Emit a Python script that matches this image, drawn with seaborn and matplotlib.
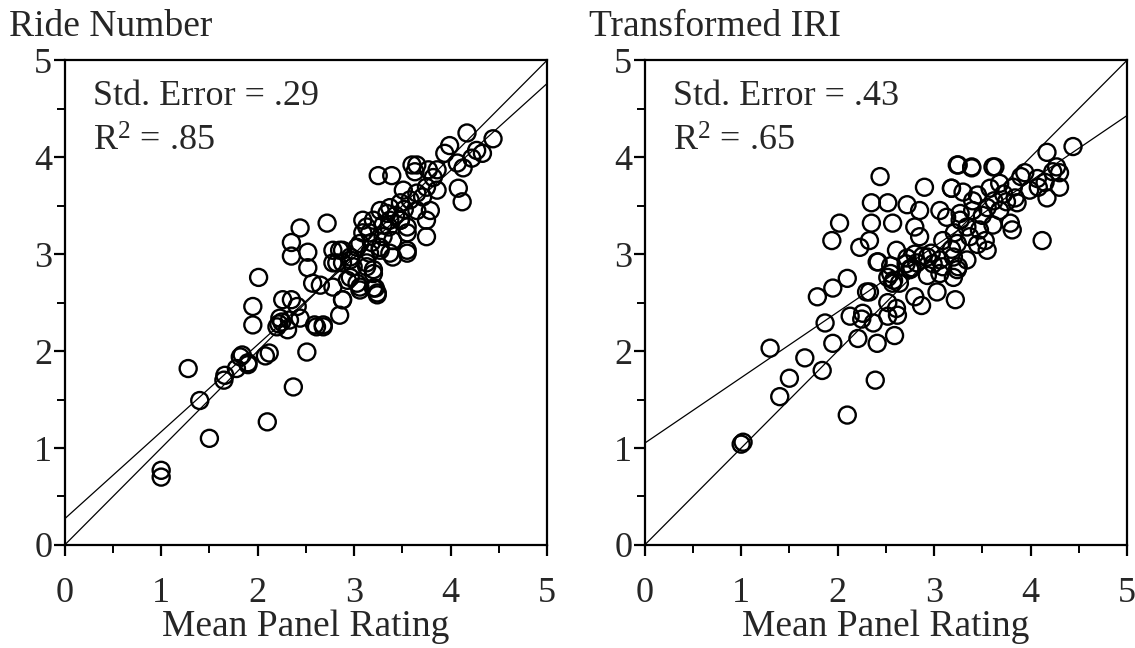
import numpy as np
import pandas as pd
import matplotlib
matplotlib.use("Agg")
import matplotlib.pyplot as plt
from matplotlib.ticker import MultipleLocator
import seaborn as sns

# Ride Number panel: mean panel rating vs predicted
ride_x = [1.00, 1.00, 1.28, 1.40, 1.50, 1.65, 1.78, 1.84, 1.90, 2.10, 2.08, 2.12, 2.22, 2.25, 2.37, 2.51,
          1.66, 1.82, 1.90, 1.95, 1.95, 2.01, 2.26, 2.35, 2.41, 2.23, 2.33, 2.44, 2.20, 2.31, 2.59, 2.68,
          2.44, 2.72, 2.35, 2.35, 2.52, 2.52, 2.57, 2.65, 2.78, 2.88, 2.85, 2.61, 2.68,
          2.93, 3.03, 3.06, 3.20, 3.24, 2.78, 2.88, 2.96, 2.82, 2.99, 3.13, 3.20, 3.06, 3.16, 3.27,
          3.09, 3.34, 3.48, 3.55, 3.40, 3.30, 3.55, 3.40,
          4.17, 4.44, 3.99, 3.94, 4.27, 4.33, 4.22, 4.13, 4.07, 3.86, 3.77, 3.65, 3.63, 3.82, 3.75,
          3.86, 3.71, 3.65, 3.58, 3.51, 3.79, 3.65, 3.48, 3.37, 3.27, 3.20, 3.13, 3.09, 3.37, 3.48,
          3.55, 3.75, 3.75, 3.55, 3.37, 3.27, 3.16, 3.03, 2.96, 2.85, 2.88, 2.78, 3.13, 3.20, 3.06,
          3.22, 3.24, 2.96, 2.88, 4.08, 4.12, 3.25, 3.39, 3.60, 3.30, 3.43, 3.52, 3.18, 3.36]
ride_y = [0.77, 0.70, 1.82, 1.49, 1.10, 1.70, 1.82, 1.96, 1.86, 1.27, 1.95, 1.98, 2.28, 2.30, 1.63, 1.99,
          1.75, 1.94, 1.88, 2.46, 2.27, 2.76, 2.53, 2.53, 2.46, 2.34, 2.32, 2.34, 2.25, 2.22, 2.27, 2.27,
          3.27, 3.32, 3.12, 2.98, 3.02, 2.86, 2.70, 2.68, 2.66, 2.53, 2.37, 2.25, 2.25,
          2.73, 2.70, 2.63, 2.65, 2.58, 3.04, 3.04, 2.94, 2.91, 2.87, 2.91, 2.84, 3.11, 3.22, 3.04,
          3.35, 3.42, 3.35, 3.22, 3.14, 3.18, 3.04, 2.97,
          4.25, 4.19, 4.12, 4.04, 4.07, 4.04, 3.99, 3.89, 3.94, 3.87, 3.87, 3.92, 3.85, 3.79, 3.69,
          3.66, 3.59, 3.63, 3.56, 3.66, 3.45, 3.45, 3.53, 3.48, 3.45, 3.35, 3.28, 3.22, 3.35, 3.35,
          3.28, 3.35, 3.18, 3.01, 3.01, 3.07, 3.01, 3.07, 2.97, 3.04, 2.91, 2.91, 2.87, 2.80, 2.66,
          2.65, 2.60, 2.76, 2.53, 3.68, 3.54, 3.81, 3.81, 3.92, 3.30, 3.40, 3.46, 3.12, 3.28]

# Transformed IRI panel
iri_x = [1.02, 1.00, 1.30, 1.40, 1.50, 1.66, 1.84, 1.87, 2.10, 2.39, 1.95, 2.21, 2.41, 2.59,
         2.44, 2.35, 2.52, 2.02, 2.35, 2.57, 1.94, 2.23, 2.33, 2.61, 2.42, 2.55, 2.58, 2.10, 1.95,
         1.79, 2.33, 2.13, 2.26, 2.25, 2.37, 2.52, 2.62, 3.24, 3.39, 3.61, 2.90, 3.18, 2.72, 2.85,
         3.06, 3.27, 2.80, 2.85, 2.72, 2.82, 2.97, 3.06, 2.41, 2.52, 2.57, 2.77, 2.93, 3.06, 3.20,
         3.25, 2.30, 3.03, 3.22, 2.80, 2.87, 2.52, 2.61, 2.71, 2.75,
         4.17, 4.44, 3.25, 3.39, 3.63, 3.94, 4.07, 4.27, 4.23, 4.30, 3.18, 3.30, 3.45, 3.58, 3.68,
         3.82, 3.84, 3.99, 4.08, 4.15, 4.30, 4.17, 4.12, 3.13, 3.27, 3.40, 3.55, 3.68, 3.75, 3.86,
         3.34, 3.47, 3.61, 3.79, 3.81, 3.09, 3.24, 3.37, 3.53, 3.55, 3.20, 3.34, 3.09, 3.24, 2.99,
         2.75, 2.64, 2.93, 3.18, 3.21, 2.80, 2.88, 2.55, 3.45, 3.50, 3.62, 3.40, 3.72, 3.90]
iri_y = [1.06, 1.04, 2.03, 1.53, 1.72, 1.93, 1.80, 2.29, 1.34, 1.70, 2.08, 2.13, 2.08, 2.16,
         3.80, 3.53, 3.53, 3.32, 3.32, 3.32, 3.14, 3.07, 3.14, 3.04, 2.92, 2.80, 2.73, 2.75, 2.65,
         2.56, 2.61, 2.36, 2.39, 2.33, 2.29, 2.36, 2.37, 3.92, 3.90, 3.90, 3.69, 3.68, 3.51, 3.45,
         3.45, 3.42, 3.28, 3.18, 2.96, 2.91, 3.01, 2.94, 2.92, 2.76, 2.70, 2.86, 2.78, 2.80, 2.76,
         2.87, 2.61, 2.61, 2.53, 2.56, 2.47, 2.50, 2.44, 2.90, 2.84,
         4.05, 4.11, 3.92, 3.89, 3.90, 3.84, 3.78, 3.90, 3.85, 3.84, 3.68, 3.64, 3.61, 3.68, 3.73,
         3.69, 3.58, 3.66, 3.69, 3.74, 3.69, 3.58, 3.14, 3.38, 3.35, 3.45, 3.48, 3.45, 3.54, 3.53,
         3.28, 3.25, 3.30, 3.32, 3.25, 3.14, 3.11, 3.18, 3.14, 3.04, 2.97, 2.94, 2.87, 2.84, 2.90,
         2.85, 2.70, 2.97, 3.05, 3.22, 3.00, 2.98, 2.88, 3.10, 3.40, 3.55, 3.55, 3.62, 3.80]

# fitted line (intercept, slope) and the 1:1 line
ride_fit = (0.27, 0.898)
iri_fit = (1.05, 0.676)
line_x = [0, 5]

panels = [
    ("Ride Number", ride_x, ride_y, ride_fit, "Std. Error = .29", "R$^{2}$ = .85"),
    ("Transformed IRI", iri_x, iri_y, iri_fit, "Std. Error = .43", "R$^{2}$ = .65"),
]

sns.set_style("ticks")
plt.rcParams["font.family"] = ["Liberation Serif", "DejaVu Serif"]
plt.rcParams["mathtext.fontset"] = "custom"
plt.rcParams["mathtext.rm"] = "Liberation Serif"
plt.rcParams["mathtext.it"] = "Liberation Serif:italic"

fig = plt.figure(figsize=(11.35, 6.48), dpi=100)
boxes = [[0.057, 0.159, 0.425, 0.748], [0.568, 0.159, 0.425, 0.748]]

for box, (title, xs, ys, fit, txt1, txt2) in zip(boxes, panels):
    ax = fig.add_axes(box)
    df = pd.DataFrame({"x": xs, "y": ys})
    sns.lineplot(x=line_x, y=line_x, ax=ax, color="black", linewidth=0.9)
    sns.lineplot(x=line_x, y=[fit[0] + fit[1] * v for v in line_x], ax=ax,
                 color="black", linewidth=0.9)
    sns.scatterplot(data=df, x="x", y="y", ax=ax, marker="o", s=150,
                    facecolor="none", edgecolor="black", linewidth=1.7, zorder=3)
    ax.set_xlim(0, 5)
    ax.set_ylim(0, 5)
    ax.xaxis.set_major_locator(MultipleLocator(1))
    ax.yaxis.set_major_locator(MultipleLocator(1))
    ax.xaxis.set_minor_locator(MultipleLocator(0.5))
    ax.yaxis.set_minor_locator(MultipleLocator(0.5))
    ax.tick_params(which="major", length=8, width=1.6, labelsize=26, color="black", pad=1)
    ax.tick_params(which="minor", length=6, width=1.4, color="black")
    ax.tick_params(axis="x", pad=15)
    for sp in ax.spines.values():
        sp.set_linewidth(1.6)
        sp.set_color("black")
    ax.set_xlabel("Mean Panel Rating", fontsize=27, labelpad=0)
    ax.set_ylabel("")
    ax.text(-0.115, 1.07, title, transform=ax.transAxes, fontsize=27,
            ha="left", va="center")
    ax.text(0.058, 0.925, txt1, transform=ax.transAxes, fontsize=26, va="center")
    ax.text(0.058, 0.83, txt2, transform=ax.transAxes, fontsize=26, va="center")

fig.savefig("out.png", dpi=100)
